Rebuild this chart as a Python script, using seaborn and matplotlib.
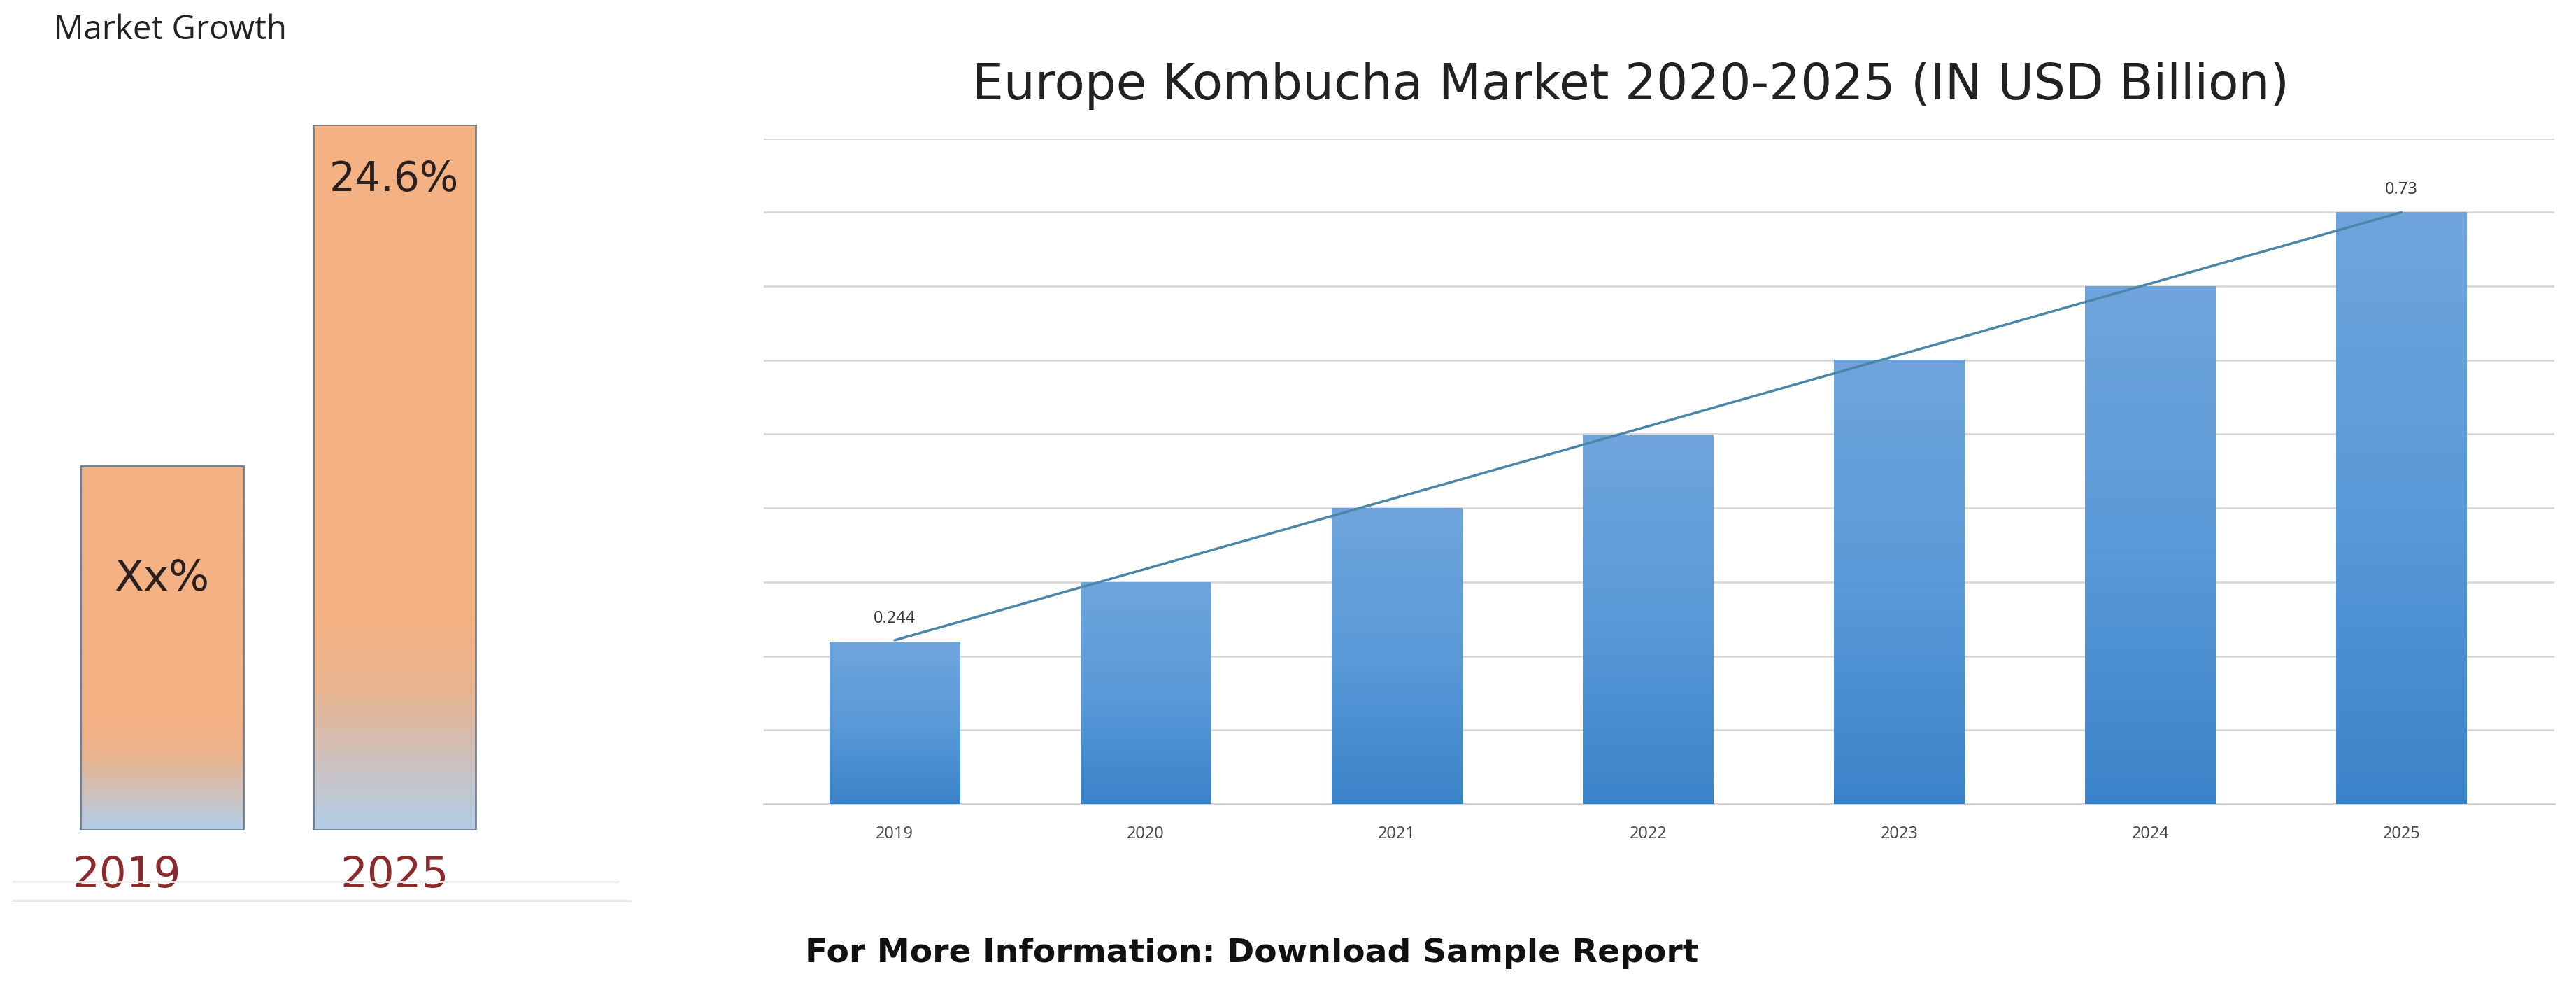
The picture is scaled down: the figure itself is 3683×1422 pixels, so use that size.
import numpy as np
import matplotlib
matplotlib.use("Agg")
import matplotlib.pyplot as plt
import seaborn as sns
import pandas as pd

years = ["2019", "2020", "2021", "2022", "2023", "2024", "2025"]
market = [0.20, 0.274, 0.365, 0.456, 0.548, 0.639, 0.73]
value_labels = {"2019": "0.244", "2025": "0.73"}
growth_years = ["2019", "2025"]
growth_vals = [12.7, 24.6]
growth_labels = ["Xx%", "24.6%"]

sns.set_theme(style="white")
plt.rcParams['font.family'] = ['Open Sans', 'DejaVu Sans']

fig = plt.figure(figsize=(36.83, 14.22), dpi=100)
fig.patch.set_facecolor("white")

def gradient_fill(ax, bars, cmap, zorder=3):
    grad = np.linspace(0, 1, 256).reshape(-1, 1)
    for b in bars:
        x0, y0 = b.get_x(), b.get_y()
        w, h = b.get_width(), b.get_height()
        im = ax.imshow(grad, cmap=cmap, aspect="auto", origin="lower",
                       extent=[x0, x0 + w, y0, y0 + h], zorder=zorder)
        im.set_clip_path(b)

from matplotlib.colors import LinearSegmentedColormap
blue_cmap = LinearSegmentedColormap.from_list("b", ["#3b83c9", "#5a9ad8", "#6fa5dc"])
orange_cmap = LinearSegmentedColormap.from_list(
    "o", [(0, "#b3cde8"), (0.2, "#e9b48f"), (0.3, "#f4b183"), (1, "#f4b183")])

# Left panel
axl = fig.add_axes([0.0041, 0.166, 0.2032, 0.7085])
dfl = pd.DataFrame({"year": growth_years, "v": growth_vals})
sns.barplot(data=dfl, x="year", y="v", ax=axl, width=0.7, color="#f4b183",
            edgecolor="#6f7c8e", linewidth=2)
bars = list(axl.patches)
for b in bars:
    b.set_zorder(4)
    b.set_facecolor("none")
gradient_fill(axl, bars, orange_cmap)
axl.set_xlim(-0.65, 1.6)
axl.set_ylim(0, 24.6)
axl.axis("off")
axl.text(0.0, growth_vals[0] * 0.69, growth_labels[0], ha="center", va="center",
         fontsize=44, color="#2a2020", zorder=5, family=["DejaVu Sans"])
axl.text(1.0, growth_vals[1] * 0.923, growth_labels[1], ha="center", va="center",
         fontsize=42, color="#2a2020", zorder=5, family=["DejaVu Sans"])
for i, y in enumerate(growth_years):
    axl.text(i - 0.15 * (i == 0), -1.6, y, ha="center", va="center", fontsize=44,
             color="#8b2a2a", clip_on=False, family=["DejaVu Sans"])
fig.add_artist(plt.Line2D([0.005, 0.245], [0.095, 0.095], color="#e3e3e3", lw=2))
fig.add_artist(plt.Line2D([0.005, 0.24], [0.114, 0.114], color="#ececec", lw=2))
fig.text(0.021, 0.986, "Market Growth", fontsize=34, color="#222222", va="top")

# Right panel
axr = fig.add_axes([0.2966, 0.192, 0.6951, 0.669])
dfr = pd.DataFrame({"year": years, "v": market})
sns.barplot(data=dfr, x="year", y="v", ax=axr, width=0.52, color="#5b9bd5",
            linewidth=0)
rb = list(axr.patches)
for b in rb:
    b.set_facecolor("none")
gradient_fill(axr, rb, blue_cmap)
axr.plot([0, 6], [market[0] * 1.01, market[-1]], color="#4a86a8", lw=2.5, zorder=6)
axr.set_xlim(-0.52, 6.61)
axr.set_ylim(0, 0.82125)
axr.set_yticks(np.arange(1, 10) * 0.09125)
axr.set_yticklabels([])
axr.yaxis.grid(True, color="#d9d9d9", lw=2)
axr.set_axisbelow(True)
for s in ["top", "right", "left"]:
    axr.spines[s].set_visible(False)
axr.spines["bottom"].set_color("#d0d0d0")
axr.spines["bottom"].set_linewidth(2)
axr.tick_params(axis="x", labelsize=17, colors="#444444", length=0, pad=22)
axr.set_xlabel("")
axr.set_ylabel("")
for i, y in enumerate(years):
    if y in value_labels:
        axr.text(i, market[i] + 0.018, value_labels[y], ha="center", va="bottom",
                 fontsize=17, color="#333333", zorder=7)
fig.text(0.633, 0.914, "Europe Kombucha Market 2020-2025 (IN USD Billion)",
         fontsize=51, color="#222222", ha="center", va="center",
         family=["DejaVu Sans"])
fig.text(0.3125, 0.042, "For More Information: Download Sample Report",
         fontsize=34, fontweight="bold", color="#111111", va="center",
         family=["DejaVu Sans"])

fig.savefig("out.png", dpi=100, facecolor="white")
